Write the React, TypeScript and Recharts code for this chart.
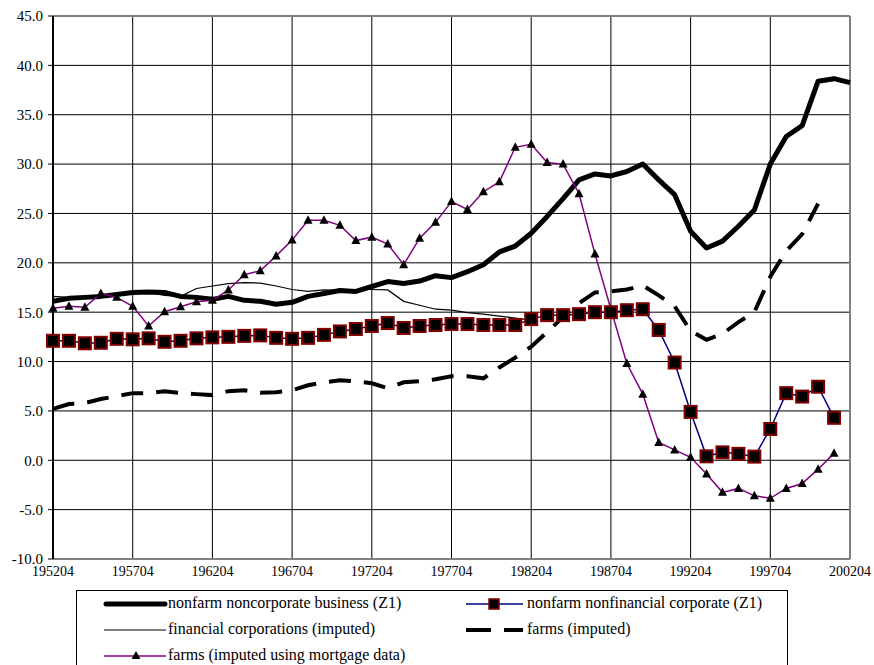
import { LineChart, Line, XAxis, YAxis, CartesianGrid, ReferenceLine } from "recharts";

// years of observation (April of each year)
const years = [
  1952, 1953, 1954, 1955, 1956, 1957, 1958, 1959, 1960, 1961,
  1962, 1963, 1964, 1965, 1966, 1967, 1968, 1969, 1970, 1971,
  1972, 1973, 1974, 1975, 1976, 1977, 1978, 1979, 1980, 1981,
  1982, 1983, 1984, 1985, 1986, 1987, 1988, 1989, 1990, 1991,
  1992, 1993, 1994, 1995, 1996, 1997, 1998, 1999, 2000, 2001, 2002,
];

const xTicks = [1952, 1957, 1962, 1967, 1972, 1977, 1982, 1987, 1992, 1997, 2002];
const yTicks = [-10, -5, 0, 5, 10, 15, 20, 25, 30, 35, 40, 45];

const noncorpBusiness = [
  16.1, 16.4, 16.5, 16.6, 16.8, 17.0, 17.05, 17.0, 16.6, 16.5,
  16.3, 16.6, 16.2, 16.1, 15.8, 16.0, 16.6, 16.9, 17.2, 17.1,
  17.6, 18.1, 17.9, 18.15, 18.7, 18.5, 19.1, 19.8, 21.1, 21.7,
  23.0, 24.7, 26.5, 28.4, 29.0, 28.8, 29.25, 30.0, 28.4, 26.9,
  23.2, 21.5, 22.2, 23.7, 25.35, 30.0, 32.8, 33.9, 38.4, 38.65, 38.25,
];

const nonfinCorporate = [
  12.1, 12.1, 11.85, 11.9, 12.3, 12.25, 12.35, 12.0, 12.1, 12.35,
  12.45, 12.5, 12.6, 12.65, 12.4, 12.3, 12.4, 12.7, 13.05, 13.3,
  13.6, 13.9, 13.4, 13.6, 13.7, 13.8, 13.8, 13.7, 13.7, 13.7,
  14.3, 14.7, 14.7, 14.8, 15.0, 15.0, 15.2, 15.3, 13.2, 9.9,
  4.9, 0.4, 0.8, 0.65, 0.37, 3.17, 6.8, 6.45, 7.45, 4.3, null,
];

const financialCorps = [
  16.6, 16.5, 16.5, 16.6, 16.8, 16.9, 17.0, 16.7, 16.6, 17.4,
  17.65, 17.9, 18.0, 17.95, 17.65, 17.3, 17.1, 17.25, 17.2, 17.3,
  17.3, 17.25, 16.1, 15.7, 15.3, 15.2, 14.95, 14.8, 14.6, 14.4,
  14.2, null, null, null, null, null, null, null, null, null,
  null, null, null, null, null, null, null, null, null, null, null,
];

const farmsImputed = [
  5.2, 5.7, 5.8, 6.2, 6.5, 6.8, 6.8, 7.0, 6.8, 6.7,
  6.6, 7.0, 7.1, 6.85, 6.9, 7.1, 7.6, 7.9, 8.1, 8.0,
  7.8, 7.3, 7.9, 8.0, 8.2, 8.5, 8.5, 8.3, 9.4, 10.4,
  11.5, 13.0, 14.5, 15.9, 17.0, 17.1, 17.3, 17.7, 16.7, 15.6,
  13.1, 12.2, 12.8, 14.0, 15.0, 18.6, 21.2, 22.9, 26.0, null, null,
];

const farmsMortgage = [
  15.4, 15.6, 15.5, 16.9, 16.5, 15.6, 13.6, 15.05, 15.55, 16.05,
  16.2, 17.25, 18.8, 19.2, 20.7, 22.3, 24.3, 24.3, 23.8, 22.25,
  22.6, 21.9, 19.8, 22.5, 24.1, 26.2, 25.4, 27.2, 28.2, 31.7,
  32.0, 30.15, 30.0, 27.0, 20.9, 15.3, 9.8, 6.7, 1.8, 1.05,
  0.3, -1.4, -3.25, -2.85, -3.6, -3.85, -2.85, -2.35, -0.9, 0.7, null,
];

const data = years.map((year, i) => ({
  year,
  noncorp: noncorpBusiness[i],
  nonfin: nonfinCorporate[i],
  financial: financialCorps[i],
  farms: farmsImputed[i],
  mortgage: farmsMortgage[i],
}));

const FONT = "Liberation Serif, Times New Roman, serif";

function SquareDot(props: any) {
  const { cx, cy, value, index } = props;
  if (cx == null || cy == null || value == null) return <g key={`s${index}`} />;
  return (
    <rect key={`s${index}`} x={cx - 6} y={cy - 6} width={12} height={12}
      fill="#000" stroke="#800000" strokeWidth={2} />
  );
}

function TriangleDot(props: any) {
  const { cx, cy, value, index } = props;
  if (cx == null || cy == null || value == null) return <g key={`t${index}`} />;
  return (
    <polygon key={`t${index}`}
      points={`${cx},${cy - 5} ${cx + 4.5},${cy + 3.5} ${cx - 4.5},${cy + 3.5}`}
      fill="#000" />
  );
}

const legendText = { position: "absolute" as const, fontFamily: FONT, fontSize: 16, lineHeight: "18px", whiteSpace: "nowrap" as const };

function LegendBox() {
  return (
    <div style={{ position: "absolute", left: 76, top: 590, width: 710, height: 90, border: "1px solid #000", background: "#fff" }}>
      <svg width={710} height={90} style={{ position: "absolute", left: 0, top: 0 }}>
        <line x1={29} y1={13} x2={88} y2={13} stroke="#000" strokeWidth={5} strokeLinecap="round" />
        <line x1={389} y1={13} x2={446} y2={13} stroke="#000080" strokeWidth={1.5} />
        <rect x={412} y={8} width={10} height={10} fill="#000" stroke="#800000" strokeWidth={1.5} />
        <line x1={27} y1={39} x2={89} y2={39} stroke="#000" strokeWidth={1.2} />
        <line x1={389} y1={39} x2={446} y2={39} stroke="#000" strokeWidth={4} strokeDasharray="25 13" />
        <line x1={27} y1={65} x2={89} y2={65} stroke="#800080" strokeWidth={1.5} />
        <polygon points="59,60 63.5,68 54.5,68" fill="#000" />
      </svg>
      <div style={{ ...legendText, left: 91, top: 3 }}>nonfarm noncorporate business (Z1)</div>
      <div style={{ ...legendText, left: 450, top: 3 }}>nonfarm nonfinancial corporate (Z1)</div>
      <div style={{ ...legendText, left: 91, top: 29 }}>financial corporations (imputed)</div>
      <div style={{ ...legendText, left: 450, top: 29 }}>farms (imputed)</div>
      <div style={{ ...legendText, left: 91, top: 55 }}>farms (imputed using mortgage data)</div>
    </div>
  );
}

export default function App() {
  return (
    <div style={{ position: "absolute", left: 0, top: 0, width: 874, height: 665, overflow: "hidden", background: "#fff", fontFamily: FONT }}>
      <LineChart width={874} height={665} data={data} margin={{ top: 16, right: 24, bottom: 0, left: 0 }}>
        <CartesianGrid stroke="#000" strokeWidth={1} />
        <XAxis
          dataKey="year"
          type="number"
          domain={[1952, 2002]}
          ticks={xTicks}
          tickFormatter={(y) => `${y}04`}
          height={106}
          tickLine={false}
          tickSize={4}
          tickMargin={3}
          axisLine={{ stroke: "#808080", strokeWidth: 2 }}
          tick={{ fill: "#000", fontFamily: FONT, fontSize: 14 }}
          interval={0}
        />
        <YAxis
          domain={[-10, 45]}
          ticks={yTicks}
          tickFormatter={(v) => v.toFixed(1)}
          width={53}
          tickSize={5}
          tickMargin={5}
          axisLine={{ stroke: "#000", strokeWidth: 2 }}
          tickLine={{ stroke: "#000" }}
          tick={{ fill: "#000", fontFamily: FONT, fontSize: 15 }}
          interval={0}
          allowDataOverflow
        />
        <ReferenceLine y={45} stroke="#808080" strokeWidth={2} />
        <ReferenceLine x={2002} stroke="#808080" strokeWidth={2} />
        <Line type="linear" dataKey="noncorp" stroke="#000" strokeWidth={5} strokeLinejoin="round" dot={false} isAnimationActive={false} />
        <Line type="linear" dataKey="financial" stroke="#000" strokeWidth={1.2} dot={false} isAnimationActive={false} />
        <Line type="linear" dataKey="farms" stroke="#000" strokeWidth={4} strokeDasharray="22 13" dot={false} isAnimationActive={false} />
        <Line type="linear" dataKey="mortgage" stroke="#800080" strokeWidth={1.5} dot={<TriangleDot />} isAnimationActive={false} />
        <Line type="linear" dataKey="nonfin" stroke="#000080" strokeWidth={1.5} dot={<SquareDot />} isAnimationActive={false} />
      </LineChart>
      <LegendBox />
    </div>
  );
}
